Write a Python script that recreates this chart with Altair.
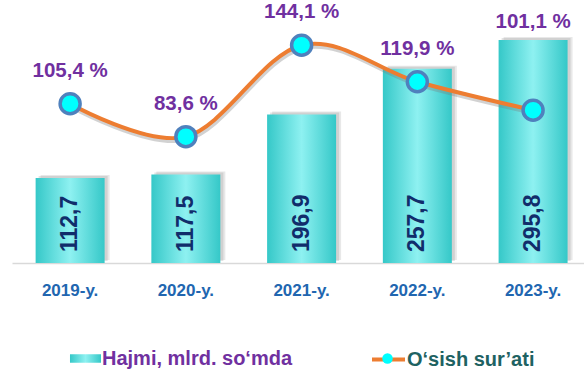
import altair as alt
import pandas as pd

years = ["2019-y.", "2020-y.", "2021-y.", "2022-y.", "2023-y."]
volume = [112.7, 117.5, 196.9, 257.7, 295.8]
growth = [105.4, 83.6, 144.1, 119.9, 101.1]
bar_label = "Hajmi, mlrd. so‘mda"
line_label = "O‘sish sur’ati"

df = pd.DataFrame({"year": years, "volume": volume, "growth": growth})
df["s_bar"] = bar_label
df["s_line"] = line_label
df["s_pt"] = "pt"
df["zero"] = 0

FONT = "Liberation Sans"
BAR_DOMAIN = [0, 349]
PCT_DOMAIN = [0, 174]

x = alt.X(
    "year:N", sort=years, title=None,
    scale=alt.Scale(paddingInner=0.404, paddingOuter=0.173, align=0.59),
    axis=alt.Axis(labelFont=FONT, labelFontSize=17, labelFontWeight="bold",
                  labelColor="#2166B0", labelAngle=0, ticks=False, labelPadding=19,
                  domainColor="#D9D9D9", domainWidth=1.5, grid=False),
)
ybar = alt.Y("volume:Q", scale=alt.Scale(domain=BAR_DOMAIN, nice=False), axis=None)
ypct = alt.Y("growth:Q", scale=alt.Scale(domain=PCT_DOMAIN, nice=False), axis=None)

base = alt.Chart(df)

grad = alt.Gradient(
    gradient="linear", x1=0, x2=1, y1=0, y2=0,
    stops=[alt.GradientStop(offset=0, color="#35C8C8"),
           alt.GradientStop(offset=0.5, color="#8EF1F1"),
           alt.GradientStop(offset=1, color="#35C8C8")],
)

shadow1 = base.mark_bar(color="#808080", opacity=0.18, xOffset=5, yOffset=-3).encode(x=x, y=ybar)
shadow2 = base.mark_bar(color="#808080", opacity=0.22, xOffset=3, yOffset=-2).encode(x=x, y=ybar)

bars = base.mark_bar(fill=grad).encode(
    x=x, y=ybar,
    opacity=alt.Opacity("s_bar:N", scale=alt.Scale(domain=[bar_label], range=[1]),
                        legend=alt.Legend(orient="none", legendX=63, legendY=348, title=None,
                                          padding=0, labelFont=FONT, labelFontSize=20,
                                          labelFontWeight="bold", labelColor="#7030A0",
                                          labelLimit=0,
                                          symbolType="M-1.5,-0.4H1.5V0.4H-1.5Z",
                                          symbolSize=428, symbolFillColor="#5ADADA",
                                          symbolStrokeWidth=0, labelOffset=6)),
)

val_text = base.transform_calculate(
    lab="replace(format(datum.volume, '.1f'), '.', ',')"
).mark_text(angle=270, align="left", baseline="middle", dx=11, font=FONT,
            fontSize=23, fontWeight="bold", color="#112D6B").encode(
    x=x, y=alt.Y("zero:Q", scale=alt.Scale(domain=BAR_DOMAIN, nice=False), axis=None),
    text="lab:N",
)

line_shadow = base.mark_line(color="#7F7F7F", opacity=0.35, strokeWidth=4,
                             interpolate="cardinal", yOffset=3, xOffset=1).encode(x=x, y=ypct)

line = base.mark_line(strokeWidth=4, interpolate="cardinal").encode(
    x=x, y=ypct,
    color=alt.Color("s_line:N", scale=alt.Scale(domain=[line_label], range=["#ED7D31"]),
                    legend=alt.Legend(orient="none", legendX=358, legendY=341, title=None,
                                      padding=0, labelFont=FONT, labelFontSize=20,
                                      labelFontWeight="bold", labelColor="#1E6262",
                                      labelLimit=0,
                                      symbolType="stroke", symbolSize=1089,
                                      symbolStrokeWidth=4, labelOffset=0)),
)

points = base.mark_point(filled=True, fill="#00FFFF", stroke="#4F81BD", strokeWidth=3.5,
                         size=400, opacity=1).encode(
    x=x, y=ypct,
    shape=alt.Shape("s_pt:N", scale=alt.Scale(domain=["pt"], range=["circle"]),
                    legend=alt.Legend(orient="none", legendX=369, legendY=352, title=None,
                                      padding=0, labelExpr="''", labelFontSize=1,
                                      symbolSize=110, symbolFillColor="#00FFFF",
                                      symbolStrokeColor="#4F81BD", symbolStrokeWidth=2.5)),
)

pct_text = base.transform_filter(alt.datum.year != "2023-y.").transform_calculate(
    lab="replace(format(datum.growth, '.1f'), '.', ',') + ' %'"
).mark_text(baseline="alphabetic", dy=-27, font=FONT, fontSize=20.5, fontWeight="bold",
            color="#7030A0").encode(x=x, y=ypct, text="lab:N")

pct_text_last = base.transform_filter(alt.datum.year == "2023-y.").transform_calculate(
    lab="replace(format(datum.growth, '.1f'), '.', ',') + ' %'"
).mark_text(baseline="alphabetic", dy=-12, font=FONT, fontSize=20.5, fontWeight="bold",
            color="#7030A0").encode(x=x, y=ybar, text="lab:N")

chart = alt.layer(
    shadow1, shadow2, bars, val_text, line_shadow, line, points, pct_text, pct_text_last
).resolve_scale(y="independent").properties(
    width=572, height=263,
    padding={"left": 12, "top": 0, "right": 0, "bottom": 114},
    autosize="none",
).configure_view(stroke=None)

chart.save("out.html", embed_options={"renderer": "svg", "actions": False})
